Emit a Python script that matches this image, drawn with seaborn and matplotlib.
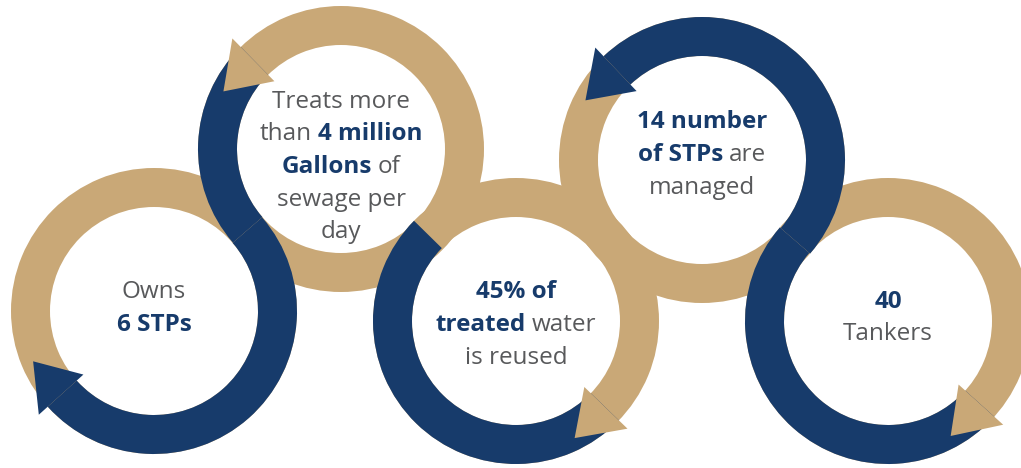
import numpy as np
import matplotlib
matplotlib.use("Agg")
import matplotlib.pyplot as plt
from matplotlib.patches import Wedge, Polygon
import seaborn as sns

# ---------------- data (texts of the five rings) ----------------
owns_lines = [[("Owns", False)], [("6 STPs", True)]]
sewage_lines = [[("Treats more", False)], [("than", False), ("4 million", True)],
                [("Gallons", True), ("of", False)], [("sewage per", False)], [("day", False)]]
reuse_lines = [[("45% of", True)], [("treated", True), ("water", False)], [("is reused", False)]]
managed_lines = [[("14 number", True)], [("of STPs", True), ("are", False)], [("managed", False)]]
tanker_lines = [[("40", True)], [("Tankers", False)]]
ring_texts = [owns_lines, sewage_lines, reuse_lines, managed_lines, tanker_lines]

# ---------------- layout / style ----------------
W, H = 1021, 468
NAVY = "#173B6B"
TAN = "#C9A877"
GREY = "#58595B"
centers_px = [(154, 311), (341, 149), (516, 321), (702, 160), (888, 321)]
R_OUT, R_IN = 143, 104
R_MID = (R_OUT + R_IN) / 2
arrow_color = [NAVY, TAN, TAN, NAVY, TAN]
arrow_base = [222, 134.5, -44, 133.5, -42]
arrow_dir = [-1, 1, -1, 1, -1]           # -1 clockwise, +1 counter-clockwise
arc_start_nb = [1, 0, 1, 4, 3]           # neighbour whose touching point starts the arrow arc
first_baseline = [298.5, 108, 298.5, 128.5, 307.5]
LINE_GAP = 32.5
FS = 17.5

sns.set_theme(style="white")
plt.rcParams['font.family'] = ['Open Sans', 'DejaVu Sans']

fig = plt.figure(figsize=(W / 100, H / 100), dpi=100)
ax = fig.add_axes([0, 0, 1, 1])
ax.set_xlim(0, W)
ax.set_ylim(0, H)
ax.axis("off")

centers = [(x, H - y) for x, y in centers_px]


def touch_angle(i, j):
    (x1, y1), (x2, y2) = centers[i], centers[j]
    return np.degrees(np.arctan2(y2 - y1, x2 - x1))


for i, c in enumerate(centers):
    col_a = arrow_color[i]
    s = touch_angle(i, arc_start_nb[i])
    b = arrow_base[i]
    if arrow_dir[i] < 0:
        t1, t2 = b, s
    else:
        t1, t2 = s, b
    while t2 <= t1:
        t2 += 360
    # full tan ring underneath
    ax.add_patch(Wedge(c, R_OUT, 0, 360, width=R_OUT - R_IN, color=TAN, lw=0, zorder=1))
    # navy part on top
    if col_a == NAVY:
        ax.add_patch(Wedge(c, R_OUT, t1, t2, width=R_OUT - R_IN, color=NAVY, lw=0, zorder=2))
    else:
        ax.add_patch(Wedge(c, R_OUT, t2, t1 + 360, width=R_OUT - R_IN, color=NAVY, lw=0, zorder=2))
    # arrow head
    th = np.radians(b)
    u = np.array([np.cos(th), np.sin(th)])
    if arrow_dir[i] > 0:
        tv = np.array([-np.sin(th), np.cos(th)])
    else:
        tv = np.array([np.sin(th), -np.cos(th)])
    cc = np.array(c)
    pts = [cc + 95 * u, cc + 155 * u, cc + R_MID * u + 43.5 * tv]
    ax.add_patch(Polygon(pts, closed=True, color=col_a, lw=0, zorder=3))

renderer = fig.canvas.get_renderer()


def width_of(s, bold):
    t = ax.text(0, 0, s, fontsize=FS, fontweight="bold" if bold else "normal")
    w = t.get_window_extent(renderer).width
    t.remove()
    return w


space_w = width_of("a a", False) - width_of("aa", False)

for i, lines in enumerate(ring_texts):
    cx = centers[i][0]
    for k, line in enumerate(lines):
        y = H - (first_baseline[i] + k * LINE_GAP)
        ws = [width_of(s, bd) for s, bd in line]
        total = sum(ws) + space_w * (len(line) - 1)
        x = cx - total / 2
        for (s, bd), w in zip(line, ws):
            ax.text(x, y, s, fontsize=FS, fontweight="bold" if bd else "normal",
                    color=NAVY if bd else GREY, ha="left", va="baseline", zorder=5)
            x += w + space_w

fig.savefig("out.png", dpi=100)
